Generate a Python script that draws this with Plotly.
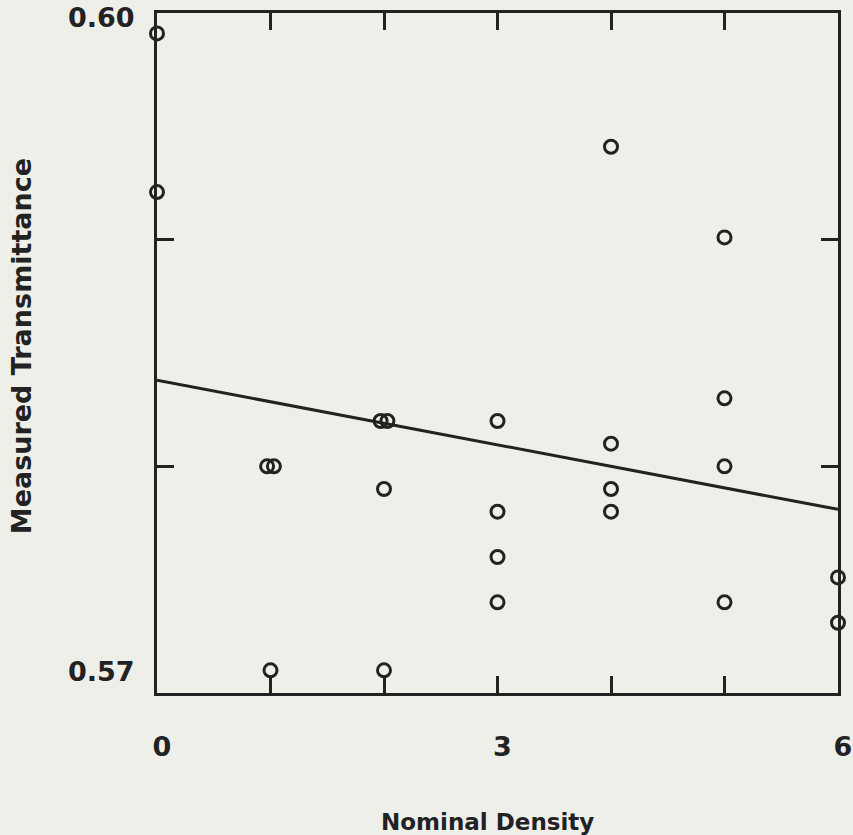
import plotly.graph_objects as go

# Data
density = [0, 0,
           0.97, 1.03, 1,
           1.97, 2.03, 2, 2,
           3, 3, 3, 3,
           4, 4, 4, 4,
           5, 5, 5, 5,
           6, 6]
transmittance = [0.5991, 0.5921,
                 0.5800, 0.5800, 0.5710,
                 0.5820, 0.5820, 0.5790, 0.5710,
                 0.5820, 0.5780, 0.5760, 0.5740,
                 0.5941, 0.5810, 0.5790, 0.5780,
                 0.5901, 0.5830, 0.5800, 0.5740,
                 0.5751, 0.5731]

fit_x = [0, 6]
fit_y = [0.5838, 0.5781]

x_tickvals = [0, 1, 2, 3, 4, 5, 6]
x_ticktext = ["0", "", "", "3", "", "", "6"]
y_tickvals = [0.57, 0.58, 0.59, 0.60]
y_labels = {0.60: "0.60", 0.57: "0.57"}
x_title = "Nominal Density"
y_title = "Measured Transmittance"

INK = "#222222"
BG = "#efefe9"
FONT = "DejaVu Sans"

fig = go.Figure()
fig.add_trace(go.Scatter(x=fit_x, y=fit_y, mode="lines",
                         line=dict(color=INK, width=3),
                         cliponaxis=False, showlegend=False))
fig.add_trace(go.Scatter(x=density, y=transmittance, mode="markers",
                         marker=dict(symbol="circle-open", size=13, color=INK,
                                     line=dict(width=3, color=INK)),
                         cliponaxis=False, showlegend=False))

for val, txt in y_labels.items():
    fig.add_annotation(x=0, xref="paper", y=val, yref="y", text=f"<b>{txt}</b>",
                       showarrow=False, xanchor="right", xshift=-20,
                       yshift=22 if val == 0.57 else -4,
                       font=dict(family=FONT, size=27, color=INK))

fig.add_annotation(x=0.485, xref="paper", y=0, yref="paper", text=f"<b>{x_title}</b>",
                   showarrow=False, xanchor="center", yanchor="middle", yshift=-129,
                   font=dict(family=FONT, size=23, color=INK))
fig.add_annotation(x=0, xref="paper", y=0.51, yref="paper", text=f"<b>{y_title}</b>",
                   showarrow=False, xanchor="center", yanchor="middle", xshift=-136,
                   textangle=-90,
                   font=dict(family=FONT, size=27, color=INK))

fig.update_layout(
    width=853, height=835,
    margin=dict(l=157, r=15, t=13, b=142),
    paper_bgcolor=BG, plot_bgcolor=BG,
    font=dict(family=FONT, size=21, color=INK),
)
fig.update_xaxes(range=[0, 6], tickvals=x_tickvals, ticktext=x_ticktext,
                 ticks="inside", ticklen=17, tickwidth=3, tickcolor=INK,
                 showline=True, linewidth=3, linecolor=INK, mirror="allticks",
                 showgrid=False, zeroline=False,
                 tickfont=dict(family=FONT, size=27, color=INK, weight="bold"),
                 ticklabelstandoff=28, ticklabelshift=5, ticklabeloverflow="allow",
                 automargin=False)
fig.update_yaxes(range=[0.57, 0.60], tickvals=y_tickvals,
                 ticktext=["", "", "", ""],
                 ticks="inside", ticklen=17, tickwidth=3, tickcolor=INK,
                 showline=True, linewidth=3, linecolor=INK, mirror="allticks",
                 showgrid=False, zeroline=False,
                 automargin=False)

fig.write_html("out.html")
